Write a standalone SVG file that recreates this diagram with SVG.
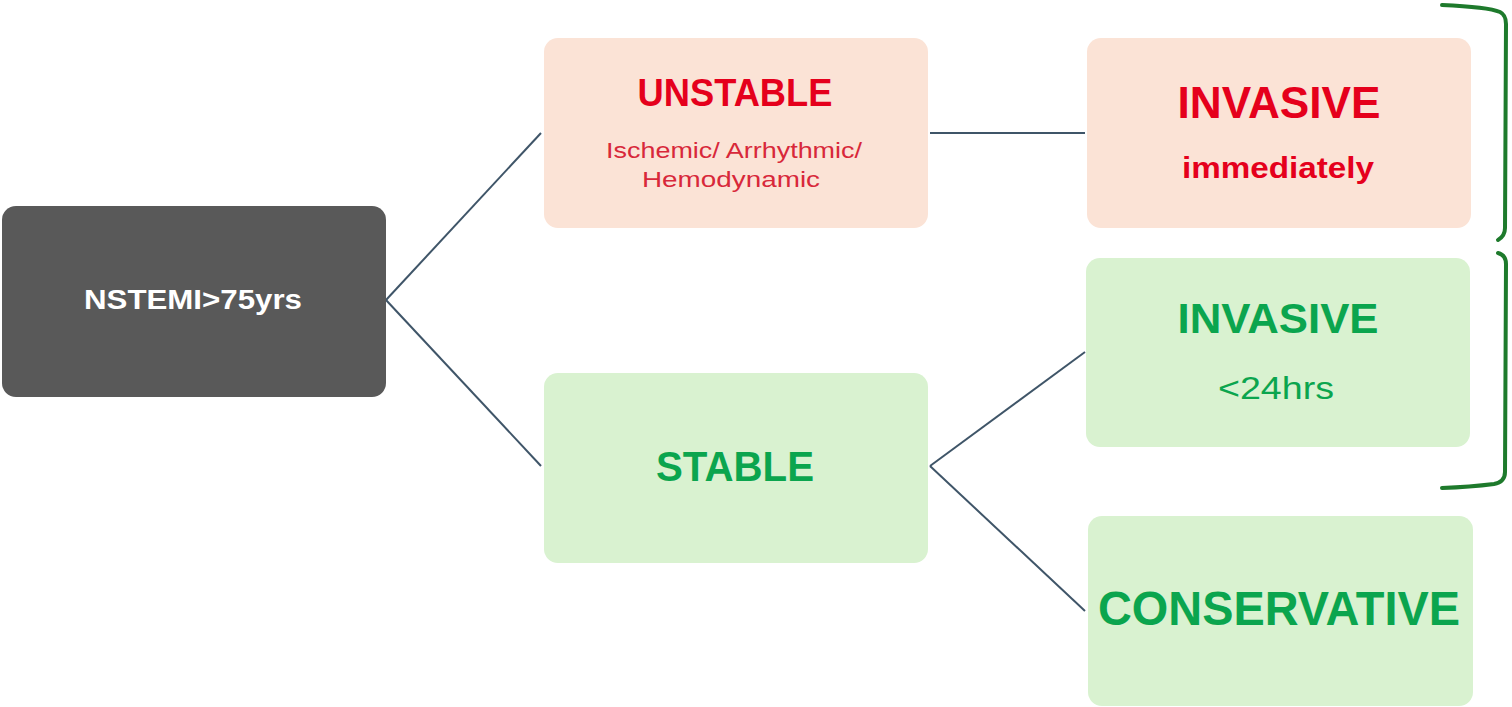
<svg xmlns="http://www.w3.org/2000/svg" width="1512" height="707" viewBox="0 0 1512 707">
<style>
.box{stroke:none}
.dark{fill:#595959}
.peach{fill:#fbe3d6}
.green{fill:#d9f2d0}
text{font-family:"Liberation Sans",Arial,sans-serif;text-anchor:middle}
.b{font-weight:bold}
.red{fill:#e5001c}
.grn{fill:#0ba54e}
.conn{stroke:#3f5568;stroke-width:2;fill:none}
.brace{stroke:#1e7a2c;stroke-width:4;fill:none;stroke-linecap:round}
</style>
<rect width="1512" height="707" fill="#ffffff"/>
<g id="connectors">
<line class="conn" x1="386" y1="300" x2="541" y2="133"/>
<line class="conn" x1="386" y1="300" x2="541" y2="466"/>
<line class="conn" x1="930" y1="133" x2="1085" y2="133"/>
<line class="conn" x1="930" y1="466" x2="1085" y2="352"/>
<line class="conn" x1="930" y1="466" x2="1085" y2="611"/>
</g>
<g id="nstemi">
<rect class="box dark" x="2" y="206" width="384" height="191" rx="14"/>
<text class="b" x="193" y="309" font-size="28" fill="#ffffff" textLength="218" lengthAdjust="spacingAndGlyphs">NSTEMI&gt;75yrs</text>
</g>
<g id="unstable">
<rect class="box peach" x="544" y="38" width="384" height="190" rx="14"/>
<text class="b red" x="735" y="106" font-size="38" textLength="195" lengthAdjust="spacingAndGlyphs">UNSTABLE</text>
<text x="734" y="158" font-size="22" fill="#d8283a" textLength="256" lengthAdjust="spacingAndGlyphs">Ischemic/ Arrhythmic/</text>
<text x="731" y="187" font-size="22" fill="#d8283a" textLength="178" lengthAdjust="spacingAndGlyphs">Hemodynamic</text>
</g>
<g id="invasive-immediately">
<rect class="box peach" x="1087" y="38" width="384" height="190" rx="14"/>
<text class="b red" x="1279" y="118" font-size="44" textLength="203" lengthAdjust="spacingAndGlyphs">INVASIVE</text>
<text class="b red" x="1278" y="178" font-size="30" textLength="192" lengthAdjust="spacingAndGlyphs">immediately</text>
</g>
<g id="stable">
<rect class="box green" x="544" y="373" width="384" height="190" rx="14"/>
<text class="b grn" x="735" y="481" font-size="42" textLength="158" lengthAdjust="spacingAndGlyphs">STABLE</text>
</g>
<g id="invasive-24">
<rect class="box green" x="1086" y="258" width="384" height="189" rx="14"/>
<text class="b grn" x="1278" y="333" font-size="42" textLength="201" lengthAdjust="spacingAndGlyphs">INVASIVE</text>
<text class="grn" x="1276" y="399" font-size="31" textLength="116" lengthAdjust="spacingAndGlyphs">&lt;24hrs</text>
</g>
<g id="conservative">
<rect class="box green" x="1088" y="516" width="385" height="190" rx="14"/>
<text class="b grn" x="1279" y="625" font-size="48" textLength="362" lengthAdjust="spacingAndGlyphs">CONSERVATIVE</text>
</g>
<g id="brace">
<path class="brace" d="M1442,5 Q1488,7 1500,12 Q1506,15 1506,24 L1505,228 Q1505,236 1498,240"/>
<path class="brace" d="M1498,253 Q1506,255 1506,264 L1505,472 Q1505,482 1494,484 Q1470,487 1442,488"/>
</g>
</svg>
